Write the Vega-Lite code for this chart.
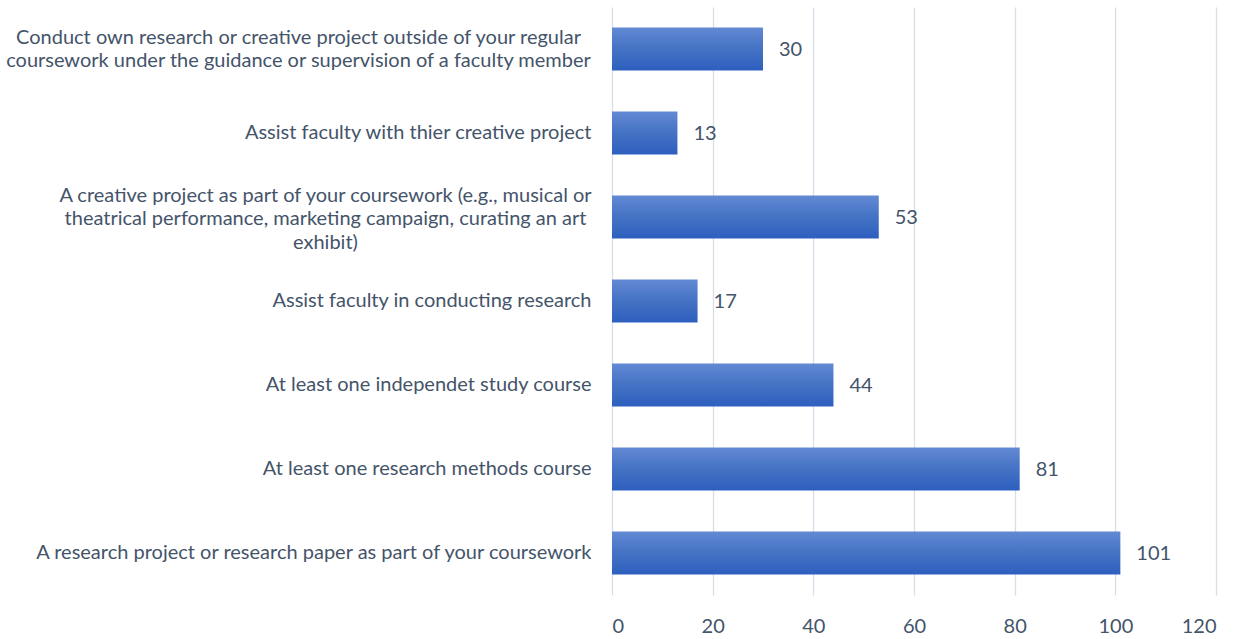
{
  "$schema": "https://vega.github.io/schema/vega-lite/v6.json",
  "width": 604,
  "height": 588,
  "autosize": {"type": "none"},
  "padding": {"left": 612, "top": 7, "right": 34, "bottom": 44},
  "background": "white",
  "config": {
    "view": {"stroke": null},
    "font": "Lato"
  },
  "data": {
    "values": [
      {"cat": "Conduct own research or creative project outside of your regular|coursework under the guidance or supervision of a faculty member", "value": 30},
      {"cat": "Assist faculty with thier creative project", "value": 13},
      {"cat": "A creative project as part of your coursework (e.g., musical or|theatrical performance, marketing campaign, curating an art|exhibit)", "value": 53},
      {"cat": "Assist faculty in conducting research", "value": 17},
      {"cat": "At least one independet study course", "value": 44},
      {"cat": "At least one research methods course", "value": 81},
      {"cat": "A research project or research paper as part of your coursework", "value": 101}
    ]
  },
  "encoding": {
    "y": {
      "field": "cat",
      "type": "nominal",
      "sort": null,
      "scale": {"paddingInner": 0.49, "paddingOuter": 0.245},
      "axis": {
        "title": null,
        "domain": false,
        "ticks": false,
        "labelLimit": 0,
        "labelFont": "Lato",
        "labelFontSize": 20,
        "labelColor": "#44546A",
        "labelLineHeight": 23.5,
        "labelExpr": "split(datum.label, '|')",
        "labelAlign": {"condition": {"test": "indexof(datum.value, '|') >= 0", "value": "center"}, "value": "right"},
        "labelPadding": {"condition": [
          {"test": "indexof(datum.value, 'Conduct own') == 0", "value": 314},
          {"test": "indexof(datum.value, 'A creative') == 0", "value": 287}
        ], "value": 21},
        "labelOffset": {"condition": [
          {"test": "indexof(datum.value, 'Conduct own') == 0", "value": -11.5},
          {"test": "indexof(datum.value, 'A creative') == 0", "value": -21.5}
        ], "value": 0}
      }
    },
    "x": {
      "field": "value",
      "type": "quantitative",
      "scale": {"domain": [0, 120], "nice": false},
      "axis": {
        "title": null,
        "values": [0, 20, 40, 60, 80, 100, 120],
        "domain": false,
        "ticks": false,
        "grid": true,
        "gridColor": "#d9dee6",
        "gridWidth": 1.3,
        "labelFont": "Lato",
        "labelFontSize": 20,
        "labelColor": "#44546A",
        "labelPadding": 21
      }
    }
  },
  "layer": [
    {
      "mark": {
        "type": "bar",
        "color": {
          "gradient": "linear",
          "x1": 0, "y1": 0, "x2": 0, "y2": 1,
          "stops": [
            {"offset": 0, "color": "#6489d4"},
            {"offset": 0.5, "color": "#4472c4"},
            {"offset": 1, "color": "#2d5fbf"}
          ]
        }
      }
    },
    {
      "mark": {
        "type": "text",
        "align": "left",
        "baseline": "middle",
        "dx": 16,
        "dy": 1,
        "font": "Lato",
        "fontSize": 20,
        "color": "#44546A"
      },
      "encoding": {
        "text": {"field": "value", "type": "quantitative"}
      }
    }
  ]
}
